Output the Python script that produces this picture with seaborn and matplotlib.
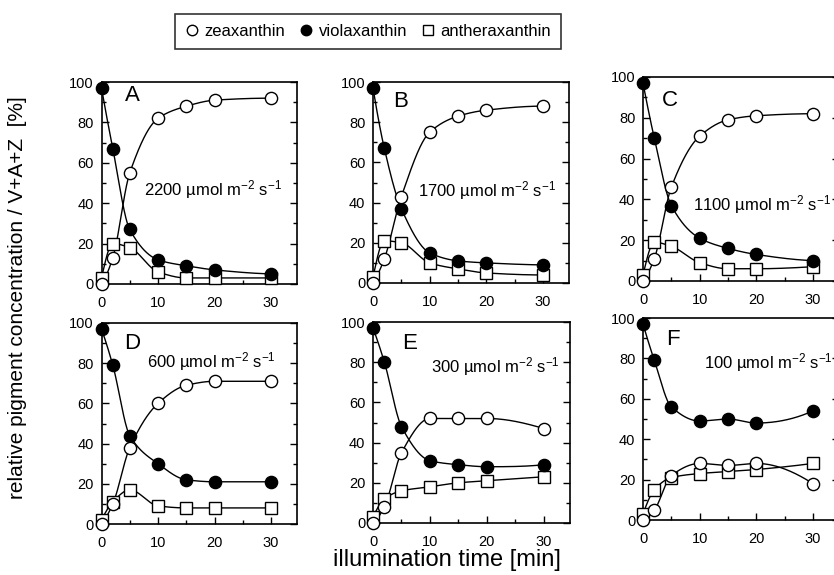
import numpy as np
import pandas as pd
import matplotlib
matplotlib.use("Agg")
import matplotlib.pyplot as plt
import seaborn as sns
from matplotlib.ticker import MultipleLocator
from matplotlib.lines import Line2D

# ---------------- data ----------------
time_min = [0, 2, 5, 10, 15, 20, 30]
panel_letters = ["A", "B", "C", "D", "E", "F"]
irradiance = ["2200", "1700", "1100", "600", "300", "100"]

zea_A = [0, 13, 55, 82, 88, 91, 92]
vio_A = [97, 67, 27, 12, 9, 7, 5]
ant_A = [3, 20, 18, 6, 3, 3, 3]

zea_B = [0, 12, 43, 75, 83, 86, 88]
vio_B = [97, 67, 37, 15, 11, 10, 9]
ant_B = [3, 21, 20, 10, 7, 5, 4]

zea_C = [0, 11, 46, 71, 79, 81, 82]
vio_C = [97, 70, 37, 21, 16, 13, 10]
ant_C = [3, 19, 17, 9, 6, 6, 7]

zea_D = [0, 10, 38, 60, 69, 71, 71]
vio_D = [97, 79, 44, 30, 22, 21, 21]
ant_D = [2, 11, 17, 9, 8, 8, 8]

zea_E = [0, 8, 35, 52, 52, 52, 47]
vio_E = [97, 80, 48, 31, 29, 28, 29]
ant_E = [3, 12, 16, 18, 20, 21, 23]

zea_F = [0, 5, 22, 28, 27, 28, 18]
vio_F = [97, 79, 56, 49, 50, 48, 54]
ant_F = [3, 15, 21, 23, 24, 25, 28]

zea = [zea_A, zea_B, zea_C, zea_D, zea_E, zea_F]
vio = [vio_A, vio_B, vio_C, vio_D, vio_E, vio_F]
ant = [ant_A, ant_B, ant_C, ant_D, ant_E, ant_F]

# ---------------- smooth guide line (monotone cubic through the points) ----------------
def _end_slope(h0, h1, d0, d1):
    m = ((2 * h0 + h1) * d0 - h0 * d1) / (h0 + h1)
    if np.sign(m) != np.sign(d0):
        return 0.0
    if np.sign(d0) != np.sign(d1) and abs(m) > abs(3 * d0):
        return 3 * d0
    return m

def smooth(x, y, n=300):
    x = np.asarray(x, float)
    y = np.asarray(y, float)
    h = np.diff(x)
    d = np.diff(y) / h
    k = len(x)
    m = np.zeros(k)
    for i in range(1, k - 1):
        if d[i - 1] * d[i] > 0:
            w1 = 2 * h[i] + h[i - 1]
            w2 = h[i] + 2 * h[i - 1]
            m[i] = (w1 + w2) / (w1 / d[i - 1] + w2 / d[i])
    m[0] = _end_slope(h[0], h[1], d[0], d[1])
    m[-1] = _end_slope(h[-1], h[-2], d[-1], d[-2])
    xs = np.linspace(x[0], x[-1], n)
    idx = np.clip(np.searchsorted(x, xs) - 1, 0, k - 2)
    t = (xs - x[idx]) / h[idx]
    h00 = 2 * t**3 - 3 * t**2 + 1
    h10 = t**3 - 2 * t**2 + t
    h01 = -2 * t**3 + 3 * t**2
    h11 = t**3 - t**2
    ys = h00 * y[idx] + h10 * h[idx] * m[idx] + h01 * y[idx + 1] + h11 * h[idx] * m[idx + 1]
    return xs, ys

# ---------------- style ----------------
sns.set_theme(style="ticks")
plt.rcParams["font.family"] = ["Liberation Sans", "DejaVu Sans"]
plt.rcParams["mathtext.fontset"] = "custom"
plt.rcParams["mathtext.rm"] = "Liberation Sans"
plt.rcParams["mathtext.it"] = "Liberation Sans"
plt.rcParams["text.color"] = "black"
plt.rcParams["axes.labelcolor"] = "black"
plt.rcParams["axes.edgecolor"] = "black"
plt.rcParams["axes.linewidth"] = 1.2
plt.rcParams["xtick.color"] = "black"
plt.rcParams["ytick.color"] = "black"
plt.rcParams["xtick.labelcolor"] = "black"
plt.rcParams["ytick.labelcolor"] = "black"

W, H = 834, 575
fig = plt.figure(figsize=(W / 100, H / 100), dpi=100)
fig.patch.set_facecolor("white")

# axes boxes in pixels: left, top, right, bottom
boxes = [
    (101.5, 82, 297, 284),
    (373, 82, 569, 283),
    (643, 77, 839, 281),
    (101.5, 323, 297, 524),
    (373, 322, 570, 523),
    (643, 318, 839, 520),
]
letter_pos = [(5.5, 93.5), (4.8, 90.5), (4.8, 88.5), (5.5, 90), (6.5, 89.5), (5.3, 89.5)]
label_pos = [(19.7, 47), (20.1, 46), (21.0, 37.5), (19.4, 81), (21.5, 78), (22.2, 78)]

ms = 8.8
for i, (l, t, r, b) in enumerate(boxes):
    ax = fig.add_axes([l / W, 1 - b / H, (r - l) / W, (b - t) / H])
    ax.set_facecolor("white")
    for series, face, marker, msz in [
        (ant[i], "white", "s", ms * 0.95),
        (vio[i], "black", "o", ms),
        (zea[i], "white", "o", ms),
    ]:
        xs, ys = smooth(time_min, series)
        sns.lineplot(x=xs, y=ys, ax=ax, color="black", linewidth=1.0,
                     estimator=None, sort=False, zorder=2)
        ax.plot(time_min, series, linestyle="none", marker=marker,
                markersize=msz, markerfacecolor=face, markeredgecolor="black",
                markeredgewidth=1.0, clip_on=False, zorder=3)
    ax.set_xlim(0, 34.6)
    ax.set_ylim(0, 100)
    ax.xaxis.set_major_locator(MultipleLocator(10))
    ax.xaxis.set_minor_locator(MultipleLocator(5))
    ax.yaxis.set_major_locator(MultipleLocator(20))
    ax.yaxis.set_minor_locator(MultipleLocator(10))
    ax.tick_params(axis="both", which="both", direction="in", top=False,
                   right=True, left=True, bottom=True)
    ax.tick_params(which="major", length=5, width=1, labelsize=10.5)
    ax.tick_params(axis="x", which="major", pad=8.5)
    ax.tick_params(axis="y", which="major", pad=5.5)
    ax.tick_params(which="minor", length=3, width=1)
    ax.set_xlabel("")
    ax.set_ylabel("")
    for s in ax.spines.values():
        s.set_visible(True)
        s.set_color("black")
    ax.text(letter_pos[i][0], letter_pos[i][1], panel_letters[i],
            ha="center", va="center", fontsize=16)
    ax.text(label_pos[i][0], label_pos[i][1],
            irradiance[i] + r" µmol m$^{-2}$ s$^{-1}$",
            ha="center", va="center", fontsize=12)

# legend
handles = [
    Line2D([], [], linestyle="none", marker="o", markersize=7.5,
           markerfacecolor="white", markeredgecolor="black", markeredgewidth=1.0),
    Line2D([], [], linestyle="none", marker="o", markersize=7.5,
           markerfacecolor="black", markeredgecolor="black", markeredgewidth=1.0),
    Line2D([], [], linestyle="none", marker="s", markersize=6.5,
           markerfacecolor="white", markeredgecolor="black", markeredgewidth=1.0),
]
leg = fig.legend(handles, ["zeaxanthin", "violaxanthin", "antheraxanthin"],
                 loc="center", bbox_to_anchor=(368 / W, 1 - 31 / H), ncol=3,
                 frameon=True, fancybox=False, edgecolor="black", fontsize=12,
                 handletextpad=0.3, columnspacing=0.8, borderpad=0.6,
                 handlelength=0.9, borderaxespad=0)
leg.get_frame().set_linewidth(1.2)

fig.text(18 / W, 1 - 298 / H, "relative pigment concentration / V+A+Z  [%]",
         rotation=90, ha="center", va="center", fontsize=15)
fig.text(447 / W, 4 / H, "illumination time [min]",
         ha="center", va="bottom", fontsize=17)

fig.savefig("out.png", dpi=100)
